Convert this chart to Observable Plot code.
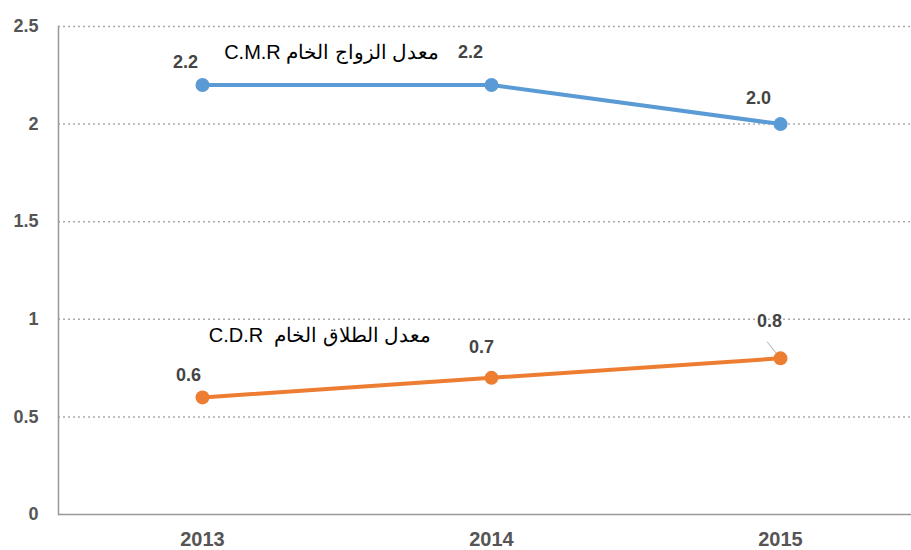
<!DOCTYPE html>
<html>
<head>
<meta charset="utf-8">
<script src="https://cdn.jsdelivr.net/npm/d3@7"></script>
<script src="https://cdn.jsdelivr.net/npm/@observablehq/plot@0.6"></script>
<style>
  html, body { margin: 0; padding: 0; background: #fff; }
  #chart svg { display: block; }
</style>
</head>
<body>
<div id="chart"></div>
<script>
// ---- data ----
const years = ["2013", "2014", "2015"];
const marriageRate = [2.2, 2.2, 2.0];   // C.M.R
const divorceRate = [0.6, 0.7, 0.8];    // C.D.R
const seriesNames = ["C.M.R معدل الزواج الخام", "C.D.R  معدل الطلاق الخام"];
const yTicks = [0, 0.5, 1, 1.5, 2, 2.5];
const gridTicks = [0.5, 1, 1.5, 2, 2.5];

const marriage = years.map((year, i) => ({year, value: marriageRate[i]}));
const divorce = years.map((year, i) => ({year, value: divorceRate[i]}));

const blue = "#5B9BD5";
const orange = "#ED7D31";
const font = "'Liberation Sans', Arial, Helvetica, sans-serif";

// label offsets (style only)
const blueOffsets = [[-17, -23], [-21, -33], [-22, -26]];
const orangeOffsets = [[-14, -22], [-10, -31], [-11, -37]];

function valueLabels(rows, offsets) {
  return rows.map((row, i) => Plot.text([row], {
    x: "year", y: "value", text: d => d.value.toFixed(1),
    dx: offsets[i][0], dy: offsets[i][1],
    fill: "#444", fontWeight: "bold", fontSize: 18, fontFamily: font,
    letterSpacing: "1.5px"
  }));
}

const chart = Plot.plot({
  width: 911,
  height: 550,
  marginLeft: 58,
  marginRight: 0,
  marginTop: 26,
  marginBottom: 36,
  style: {fontFamily: font, background: "#fff", overflow: "visible"},
  x: {type: "point", domain: years, range: [57, 925], padding: 0.5},
  y: {domain: [0, 2.5]},
  marks: [
    Plot.ruleY(gridTicks, {stroke: "#aaa", strokeWidth: 1.5, strokeDasharray: "2,3"}),
    Plot.ruleY([0], {stroke: "#999", strokeWidth: 1.5}),
    Plot.frame({anchor: "left", stroke: "#999", strokeWidth: 1.5}),
    Plot.axisY({ticks: yTicks, tickSize: 0, tickPadding: 20, tickFormat: d => String(d),
      fill: "#555", fontWeight: "bold", fontSize: 18, label: null}),
    Plot.axisX({tickSize: 0, tickPadding: 17, fill: "#555", fontWeight: "bold", fontSize: 20, label: null}),
    Plot.line(marriage, {x: "year", y: "value", stroke: blue, strokeWidth: 4}),
    Plot.line(divorce, {x: "year", y: "value", stroke: orange, strokeWidth: 4}),
    Plot.vector([divorce[2]], {x: "year", y: "value", length: 21, rotate: -39, anchor: "start",
      stroke: "#bbb", strokeWidth: 1,
      shape: {draw(context, l) { context.moveTo(0, 0); context.lineTo(0, -l); }}}),
    Plot.dot(marriage, {x: "year", y: "value", r: 7, fill: blue}),
    Plot.dot(divorce, {x: "year", y: "value", r: 7, fill: orange}),
    ...valueLabels(marriage, blueOffsets),
    ...valueLabels(divorce, orangeOffsets),
    Plot.text([marriage[1]], {x: "year", y: "value", text: () => seriesNames[0],
      textAnchor: "end", dx: -52, dy: -32, fill: "#000", fontSize: 20, fontFamily: font}),
    Plot.text([divorce[1]], {x: "year", y: "value", text: () => seriesNames[1],
      textAnchor: "end", dx: -60, dy: -42, fill: "#000", fontSize: 20, fontFamily: font})
  ]
});
document.getElementById("chart").appendChild(chart);
</script>
</body>
</html>
